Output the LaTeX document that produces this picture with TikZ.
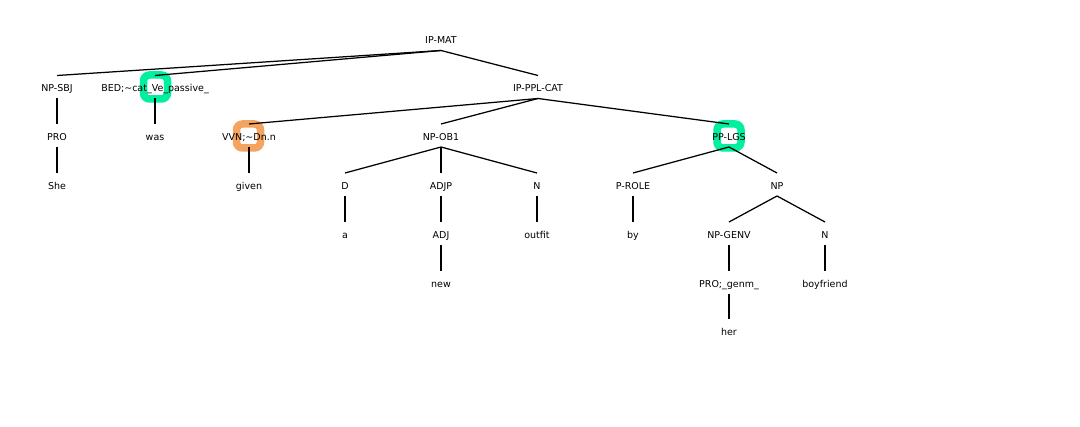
\documentclass[tikz,border=0pt]{standalone}
\usepackage{fontspec}
\setmainfont{DejaVu Sans}
\usetikzlibrary{calc}
\definecolor{hlgreen}{RGB}{0,240,160}
\definecolor{hlorange}{RGB}{244,164,96}
\begin{document}
\begin{tikzpicture}[x=1pt,y=-1pt,
  lbl/.style={inner sep=0pt,font=\fontsize{9.5}{11}\selectfont,text height=8pt,text depth=0.8pt},
  edge/.style={line width=1.25pt},
  hl/.style={draw=#1,fill=white,line width=7.5pt,minimum size=24pt,rounded corners=6pt,inner sep=0pt}]
\useasboundingbox (0,0) rectangle (1080,427);
% highlighted nodes (drawn underneath)
\node[hl=hlgreen]  (hbed) at (155.5,87) {};
\node[hl=hlorange] (hvvn) at (248.5,136) {};
\node[hl=hlgreen]  (hpp)  at (729,136) {};
% row 0
\node[lbl] (ipmat) at (441,40) {IP-MAT};
% row 1
\node[lbl] (npsbj) at (57,88) {NP-SBJ};
\node[lbl] (bed)   at (155,88) {BED;\textasciitilde cat\_Ve\_passive\_};
\node[lbl] (ippl)  at (538,88) {IP-PPL-CAT};
% row 2
\node[lbl] (pro)   at (57,136.5) {PRO};
\node[lbl] (was)   at (155,136.5) {was};
\node[lbl] (vvn)   at (249,136.5) {VVN;\textasciitilde Dn.n};
\node[lbl] (npob)  at (441,136.5) {NP-OB1};
\node[lbl] (pplgs) at (729,136.5) {PP-LGS};
% row 3
\node[lbl] (she)   at (57,185.5) {She};
\node[lbl] (given) at (249,185.5) {given};
\node[lbl] (d)     at (345,185.5) {D};
\node[lbl] (adjp)  at (441,185.5) {ADJP};
\node[lbl] (n1)    at (537,185.5) {N};
\node[lbl] (prole) at (633,185.5) {P-ROLE};
\node[lbl] (np)    at (777,185.5) {NP};
% row 4
\node[lbl] (a)     at (345,234.5) {a};
\node[lbl] (adj)   at (441,234.5) {ADJ};
\node[lbl] (outfit) at (537,234.5) {outfit};
\node[lbl] (by)    at (633,234.5) {by};
\node[lbl] (npgen) at (729,234.5) {NP-GENV};
\node[lbl] (n2)    at (825,234.5) {N};
% row 5
\node[lbl] (new)   at (441,283.5) {new};
\node[lbl] (progen) at (729,283.5) {PRO;\_genm\_};
\node[lbl] (boy)   at (825,283.5) {boyfriend};
% row 6
\node[lbl] (her)   at (729,332) {her};
% branches: parent bottom to child top
\foreach \p/\c in {ipmat/npsbj, ipmat/bed, ipmat/ippl,
                   npsbj/pro, pro/she, bed/was,
                   ippl/vvn, ippl/npob, ippl/pplgs,
                   vvn/given, npob/d, npob/adjp, npob/n1,
                   d/a, adjp/adj, adj/new, n1/outfit,
                   pplgs/prole, pplgs/np, prole/by,
                   np/npgen, np/n2, npgen/progen, progen/her, n2/boy}
  \draw[edge] ([yshift=-10.5pt]\p.center) -- ([yshift=12.5pt]\c.center);
\end{tikzpicture}
\end{document}
